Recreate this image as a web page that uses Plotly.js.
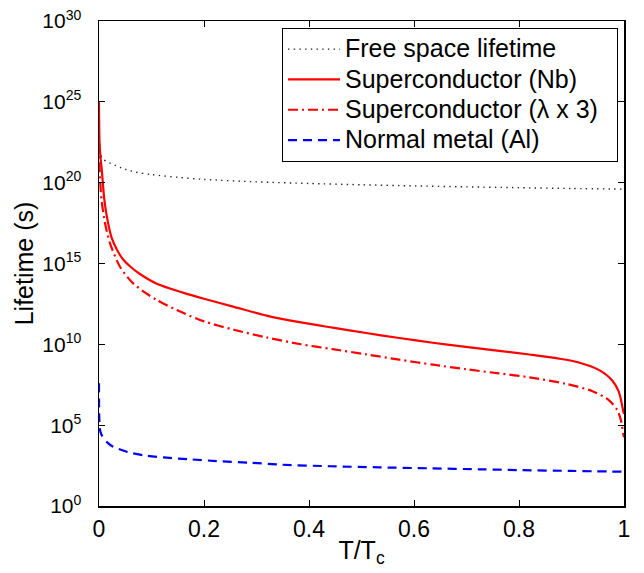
<!DOCTYPE html>
<html>
<head>
<meta charset="utf-8">
<script src="https://cdn.plot.ly/plotly-3.0.1.min.js"></script>
<style>html,body{margin:0;padding:0;background:#fff;}#chart{width:644px;height:573px;}</style>
</head>
<body>
<div id="chart"></div>
<script>
// Series values: exponents (log10 of lifetime in s)
const freeX   = [0.0, 0.002, 0.008, 0.02, 0.03, 0.04, 0.05, 0.06, 0.07, 0.1, 0.15, 0.2, 0.3, 0.4, 0.5, 0.6, 0.7, 0.8, 0.9, 1.0];
const freeLog = [22.0, 21.8, 21.45, 21.23, 21.09, 20.95, 20.83, 20.74, 20.65, 20.5, 20.33, 20.2, 20.05, 19.95, 19.87, 19.8, 19.74, 19.69, 19.64, 19.6];

const nbX   = [0.0, 0.001, 0.003, 0.005, 0.01, 0.015, 0.024, 0.035, 0.046, 0.06, 0.078, 0.11, 0.16, 0.2, 0.257, 0.319, 0.382, 0.445, 0.509, 0.572, 0.636, 0.699, 0.762, 0.82, 0.876, 0.914, 0.952, 0.978, 0.99, 0.995, 0.998, 1.0];
const nbLog = [25.0, 22.5, 21.5, 20.9, 19.0, 17.9, 16.6, 15.8, 15.25, 14.8, 14.35, 13.75, 13.2, 12.82, 12.32, 11.78, 11.37, 11.03, 10.7, 10.39, 10.1, 9.84, 9.6, 9.37, 9.12, 8.88, 8.42, 7.75, 7.07, 6.45, 5.95, 5.7];

const lam3X   = [0.0, 0.001, 0.002, 0.005, 0.0114, 0.021, 0.04, 0.065, 0.11, 0.16, 0.2, 0.257, 0.319, 0.382, 0.445, 0.509, 0.572, 0.636, 0.699, 0.762, 0.82, 0.889, 0.94, 0.971, 0.987, 0.994, 0.999, 1.0];
const lam3Log = [22.5, 21.0, 20.2, 18.9, 17.5, 16.25, 14.8, 13.77, 12.74, 11.95, 11.42, 10.9, 10.43, 10.02, 9.7, 9.38, 9.05, 8.74, 8.46, 8.2, 7.96, 7.56, 7.1, 6.55, 5.94, 5.32, 4.4, 4.25];

const alX   = [0.0, 0.0005, 0.002, 0.005, 0.015, 0.027, 0.059, 0.091, 0.129, 0.173, 0.224, 0.287, 0.344, 0.44, 0.534, 0.63, 0.724, 0.8, 0.9, 1.0];
const alLog = [7.6, 5.5, 4.7, 4.39, 3.95, 3.67, 3.3, 3.11, 2.99, 2.89, 2.78, 2.68, 2.56, 2.46, 2.39, 2.33, 2.27, 2.22, 2.17, 2.12];

const seriesNames = ['Free space lifetime', 'Superconductor (Nb)', 'Superconductor (\u03bb x 3)', 'Normal metal (Al)'];

// Tick labels
const yTickExp = [0, 5, 10, 15, 20, 25, 30];
const yTickText = yTickExp.map(e => '10<sup><span style="font-size:14px">' + e + '</span></sup>');
const xTickVals = [0, 0.2, 0.4, 0.6, 0.8, 1];
const xTickText = ['0', '0.2', '0.4', '0.6', '0.8', '1'];

const toVal = arr => arr.map(e => Math.pow(10, e));
const FONT = 'Liberation Sans, Arial, Helvetica, sans-serif';
const big = s => '<span style="font-size:25px">' + s + '\u00a0\u00a0</span>';

const traces = [
  {x: freeX, y: toVal(freeLog), name: big(seriesNames[0]), mode: 'lines',
   line: {color: '#222', width: 1.4, dash: '1.4px,4.3px', shape: 'spline', smoothing: 0.8}},
  {x: nbX, y: toVal(nbLog), name: big(seriesNames[1]), mode: 'lines',
   line: {color: '#ff0000', width: 2.2, shape: 'spline', smoothing: 0.8}},
  {x: lam3X, y: toVal(lam3Log), name: big(seriesNames[2]), mode: 'lines',
   line: {color: '#ff0000', width: 2.2, dash: '10px,4px,2px,4px', shape: 'spline', smoothing: 0.8}},
  {x: alX, y: toVal(alLog), name: big(seriesNames[3]), mode: 'lines',
   line: {color: '#0000ff', width: 2.2, dash: '9px,6px', shape: 'spline', smoothing: 0.8}}
];

const layout = {
  width: 644, height: 573,
  margin: {l: 99, r: 20, t: 21, b: 67},
  paper_bgcolor: '#fff', plot_bgcolor: '#fff',
  font: {family: FONT, size: 23, color: '#000'},
  showlegend: true,
  legend: {
    x: 0.9886, y: 0.9856, xanchor: 'right', yanchor: 'top',
    bgcolor: '#fff', bordercolor: '#000', borderwidth: 1,
    font: {family: FONT, size: 21, color: '#000'},
    itemwidth: 52, tracegroupgap: 0
  },
  xaxis: {
    range: [0, 1], tickmode: 'array', tickvals: xTickVals, ticktext: xTickText,
    ticks: 'inside', ticklen: 6, tickwidth: 1, tickcolor: '#000',
    showline: true, linecolor: '#000', linewidth: 1.5, mirror: 'ticks',
    showgrid: false, zeroline: false,
    tickfont: {family: FONT, size: 23},
    ticklabelstandoff: 2,
    title: {text: 'T/T<sub>c</sub>', font: {family: FONT, size: 25}, standoff: 0}
  },
  yaxis: {
    type: 'log', range: [0, 30], tickmode: 'array',
    tickvals: toVal(yTickExp), ticktext: yTickText,
    ticks: 'inside', ticklen: 6, tickwidth: 1, tickcolor: '#000',
    showline: true, linecolor: '#000', linewidth: 1.5, mirror: 'ticks',
    showgrid: false, zeroline: false,
    tickfont: {family: FONT, size: 21},
    ticklabelstandoff: 12,
    title: {text: 'Lifetime (s)', font: {family: FONT, size: 25}, standoff: 1}
  }
};

Plotly.newPlot('chart', traces, layout, {displayModeBar: false, staticPlot: true});
</script>
</body>
</html>
